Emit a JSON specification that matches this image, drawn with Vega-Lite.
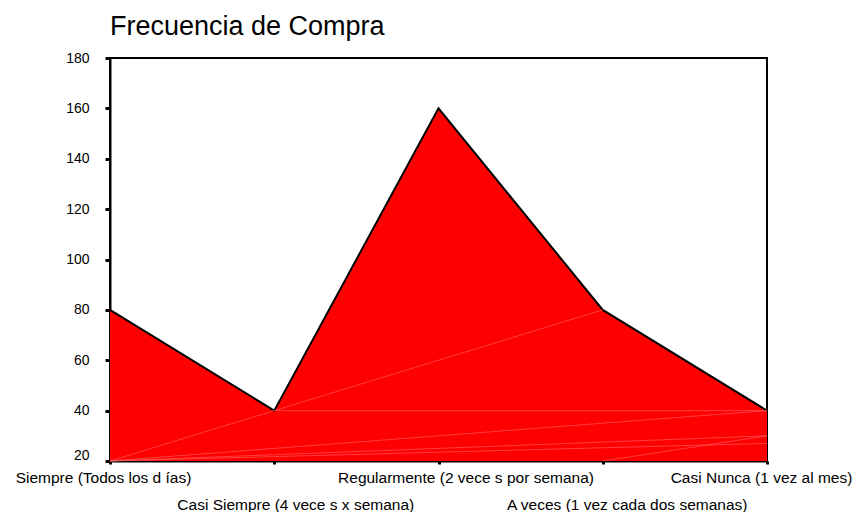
{
  "$schema": "https://vega.github.io/schema/vega-lite/v6.json",
  "width": 657,
  "height": 403,
  "autosize": {"type": "none"},
  "padding": {"left": 110, "top": 58, "right": 89, "bottom": 51},
  "background": "white",
  "title": {"text": "Frecuencia de Compra", "anchor": "start", "frame": "group", "font": "Liberation Sans", "fontSize": 27, "fontWeight": "normal", "color": "black", "offset": 10},
  "config": {"view": {"stroke": "black", "strokeWidth": 2}},
  "datasets": {
    "main": [
      {"cat": "Siempre (Todos los d ías)", "value": 80},
      {"cat": "Casi Siempre (4 vece s x semana)", "value": 40},
      {"cat": "Regularmente (2 vece s por semana)", "value": 160},
      {"cat": "A veces (1 vez cada dos semanas)", "value": 80},
      {"cat": "Casi Nunca (1 vez al mes)", "value": 40}
    ],
    "seams": [
      {"seg": 1, "o": 1, "cat": "Siempre (Todos los d ías)", "value": 20},
      {"seg": 1, "o": 2, "cat": "Casi Siempre (4 vece s x semana)", "value": 40},
      {"seg": 2, "o": 1, "cat": "Casi Siempre (4 vece s x semana)", "value": 40},
      {"seg": 2, "o": 2, "cat": "A veces (1 vez cada dos semanas)", "value": 80},
      {"seg": 3, "o": 1, "cat": "Casi Siempre (4 vece s x semana)", "value": 40},
      {"seg": 3, "o": 2, "cat": "Casi Nunca (1 vez al mes)", "value": 40},
      {"seg": 4, "o": 1, "cat": "Siempre (Todos los d ías)", "value": 20},
      {"seg": 4, "o": 2, "cat": "Casi Nunca (1 vez al mes)", "value": 40},
      {"seg": 5, "o": 1, "cat": "Siempre (Todos los d ías)", "value": 20},
      {"seg": 5, "o": 2, "cat": "Casi Nunca (1 vez al mes)", "value": 30},
      {"seg": 6, "o": 1, "cat": "Siempre (Todos los d ías)", "value": 20},
      {"seg": 6, "o": 2, "cat": "Casi Nunca (1 vez al mes)", "value": 27},
      {"seg": 7, "o": 1, "cat": "A veces (1 vez cada dos semanas)", "value": 20},
      {"seg": 7, "o": 2, "cat": "Casi Nunca (1 vez al mes)", "value": 30}
    ]
  },
  "encoding": {
    "x": {
      "field": "cat", "type": "nominal", "sort": null,
      "scale": {"type": "point", "padding": 0},
      "axis": {
        "title": null, "labelAngle": 0, "labelOverlap": false, "labelBound": false, "labelLimit": 0,
        "labelExpr": "round(datum.index*4) % 2 == 1 ? ['', datum.label] : datum.label",
        "labelLineHeight": 27, "labelFont": "Liberation Sans", "labelFontSize": 15.5,
        "labelColor": "black", "labelPadding": 6,
        "labelOffset": {"condition": [
          {"test": "round(datum.index*4) == 0", "value": -7},
          {"test": "round(datum.index*4) == 1", "value": 21},
          {"test": "round(datum.index*4) == 2", "value": 27},
          {"test": "round(datum.index*4) == 3", "value": 24}
        ], "value": -6},
        "tickSize": 3, "tickWidth": 3, "tickColor": "black",
        "domainColor": "black", "domainWidth": 2
      }
    },
    "y": {
      "field": "value", "type": "quantitative",
      "scale": {"domain": [20, 180], "zero": false, "nice": false},
      "axis": {
        "title": null, "values": [20, 40, 60, 80, 100, 120, 140, 160, 180],
        "grid": false, "labelFont": "Liberation Sans", "labelFontSize": 14,
        "labelColor": "black", "labelPadding": 16,
        "labelOffset": {"condition": {"test": "datum.value == 20", "value": -6}, "value": 0},
        "tickSize": 5, "tickWidth": 3, "tickColor": "black",
        "domainColor": "black", "domainWidth": 2
      }
    }
  },
  "layer": [
    {
      "data": {"name": "main"},
      "mark": {"type": "area", "color": "#ff0000", "opacity": 1, "line": {"color": "black", "strokeWidth": 2}},
      "encoding": {"y2": {"datum": 20}}
    },
    {
      "data": {"name": "seams"},
      "mark": {"type": "line", "color": "#ff7070", "strokeWidth": 0.7, "opacity": 0.8},
      "encoding": {"detail": {"field": "seg"}, "order": {"field": "o"}}
    }
  ]
}
